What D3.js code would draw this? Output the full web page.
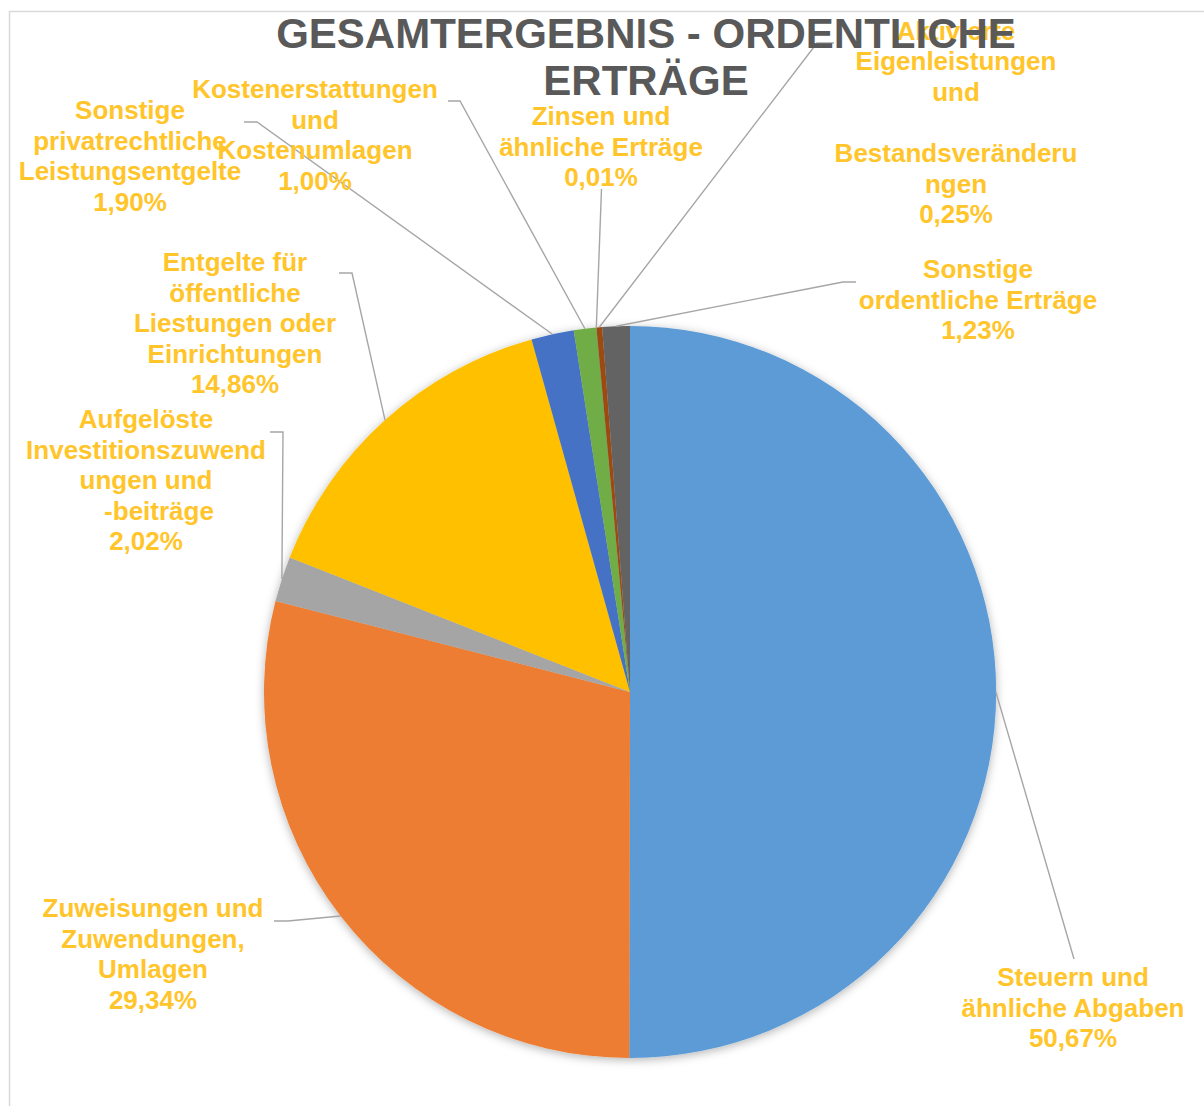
<!DOCTYPE html>
<html>
<head>
<meta charset="utf-8">
<script src="https://cdn.jsdelivr.net/npm/d3@7"></script>
<style>
  body { margin: 0; background: #fff; }
  svg { display: block; }
</style>
</head>
<body>
<svg id="chart"></svg>
<script>
// data
const categories = [
    "Steuern und ähnliche Abgaben",
    "Zuweisungen und Zuwendungen, Umlagen",
    "Aufgelöste Investitionszuwendungen und -beiträge",
    "Entgelte für öffentliche Liestungen oder Einrichtungen",
    "Sonstige privatrechtliche Leistungsentgelte",
    "Kostenerstattungen und Kostenumlagen",
    "Zinsen und ähnliche Erträge",
    "Aktivierte Eigenleistungen und Bestandsveränderungen",
    "Sonstige ordentliche Erträge"
];
const values = [50.67, 29.34, 2.02, 14.86, 1.90, 1.00, 0.01, 0.25, 1.23];
// how the labels wrap in the picture
const labelLines = [
    ["Steuern und", "ähnliche Abgaben"],
    ["Zuweisungen und", "Zuwendungen,", "Umlagen"],
    ["Aufgelöste", "Investitionszuwend", "ungen und", "\u2003-beiträge"],
    ["Entgelte für", "öffentliche", "Liestungen oder", "Einrichtungen"],
    ["Sonstige", "privatrechtliche", "Leistungsentgelte"],
    ["Kostenerstattungen", "und", "Kostenumlagen"],
    ["Zinsen und", "ähnliche Erträge"],
    ["Aktivierte", "Eigenleistungen", "und", "", "Bestandsveränderu", "ngen"],
    ["Sonstige", "ordentliche Erträge"]
];
const titleLines = ["GESAMTERGEBNIS - ORDENTLICHE", "ERTRÄGE"];

const colors = ["#5B9BD5", "#ED7D31", "#A5A5A5", "#FFC000", "#4472C4",
                "#70AD47", "#255E91", "#9E480E", "#636363"];

const width = 1204, height = 1106;
const cx = 630, cy = 692, radius = 366;
const lineHeight = 30.6;

// label block placement: centre x, first baseline
const labelPos = [
    [1073, 986], [153, 917], [146, 428], [235, 271], [130, 119],
    [315, 98], [601, 125], [956, 39.5], [978, 278]
];
// leader line start + elbow, last leg goes to the slice
const leaders = [
    [[1074, 959], [1074, 959]],
    [[274, 921], [288, 921]],
    [[270, 432], [283, 432]],
    [[339, 273], [352, 273]],
    [[244, 122], [257, 122]],
    [[448, 101], [460, 101]],
    [[601.5, 189], [601.5, 189]],
    [[834, 43], [817, 43]],
    [[856, 282], [843, 282]]
];

const fmt = v => d3.format(".2f")(v).replace(".", ",") + "%";

const svg = d3.select("#chart")
    .attr("width", width)
    .attr("height", height);

const defs = svg.append("defs");
const shadow = defs.append("filter")
    .attr("id", "shadow")
    .attr("x", "-10%").attr("y", "-10%")
    .attr("width", "120%").attr("height", "120%");
shadow.append("feDropShadow")
    .attr("dx", 0).attr("dy", 2)
    .attr("stdDeviation", 5)
    .attr("flood-color", "#000")
    .attr("flood-opacity", 0.3);

// chart area border
svg.append("rect")
    .attr("x", 9.5).attr("y", 11.5)
    .attr("width", 1400).attr("height", 1400)
    .attr("fill", "none")
    .attr("stroke", "#D9D9D9")
    .attr("stroke-width", 1.5);

const pie = d3.pie().sort(null).value(d => d);
const arcs = pie(values);

const arc = d3.arc().innerRadius(0).outerRadius(radius);
const rim = d3.arc().innerRadius(radius).outerRadius(radius);

const g = svg.append("g")
    .attr("transform", `translate(${cx},${cy})`);

g.append("g")
    .attr("filter", "url(#shadow)")
    .selectAll("path")
    .data(arcs)
    .enter().append("path")
    .attr("d", arc)
    .attr("fill", (d, i) => colors[i]);

// leader lines
svg.append("g")
    .selectAll("path")
    .data(arcs)
    .enter().append("path")
    .attr("d", (d, i) => {
        const p = rim.centroid(d);
        const [a, b] = leaders[i];
        return d3.line()([a, b, [p[0] + cx, p[1] + cy]]);
    })
    .attr("fill", "none")
    .attr("stroke", "#A6A6A6")
    .attr("stroke-width", 1.4);

// data labels
const labels = svg.append("g")
    .attr("font-family", "'Liberation Sans', Arial, sans-serif")
    .attr("font-weight", "bold")
    .attr("font-size", 26)
    .attr("fill", "#FFC52A")
    .attr("text-anchor", "middle");

labels.selectAll("text")
    .data(arcs)
    .enter().append("text")
    .attr("x", (d, i) => labelPos[i][0])
    .attr("y", (d, i) => labelPos[i][1])
    .each(function(d, i) {
        const t = d3.select(this);
        const lines = labelLines[i].concat([fmt(d.data)]);
        lines.forEach((s, k) => {
            t.append("tspan")
                .attr("x", labelPos[i][0])
                .attr("y", labelPos[i][1] + k * lineHeight)
                .text(s);
        });
    });

// title sits on top of the labels
svg.append("g")
    .selectAll("text")
    .data(titleLines)
    .enter().append("text")
    .attr("x", 646)
    .attr("y", (d, i) => 48 + i * 47)
    .attr("text-anchor", "middle")
    .attr("font-family", "'Liberation Sans', Arial, sans-serif")
    .attr("font-weight", "bold")
    .attr("font-size", 42)
    .attr("fill", "#595959")
    .text(d => d);
</script>
</body>
</html>
